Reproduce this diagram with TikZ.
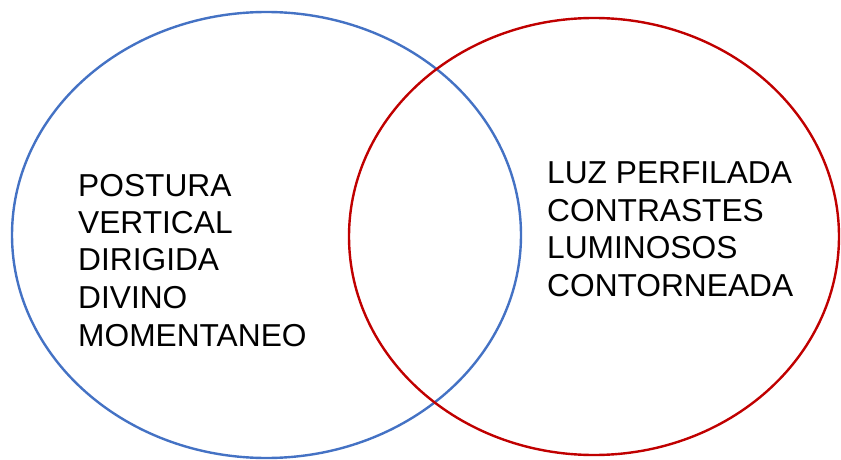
\documentclass[tikz,border=0pt]{standalone}
\usepackage{fontspec}
\setmainfont{Liberation Sans}
\usetikzlibrary{shapes.geometric}
\definecolor{vblue}{HTML}{4472C4}
\definecolor{vred}{HTML}{C00000}
\begin{document}
\begin{tikzpicture}[x=1pt,y=1pt,
  ring/.style={line width=2.4pt,ellipse,inner sep=0pt},
  lbl/.style={anchor=base west,inner sep=0pt,font=\fontsize{31.7}{37}\selectfont}]
\useasboundingbox (0,0) rectangle (841,459);
\node[ring,draw=vblue,minimum width=509pt,minimum height=446pt] (left) at (266.5,224) {};
\node[ring,draw=vred,minimum width=490pt,minimum height=437pt] (right) at (594,222.5) {};
\node[lbl] (l1) at (78,263) {POSTURA};
\node[lbl] (l2) at (78,226) {VERTICAL};
\node[lbl] (l3) at (78,189) {DIRIGIDA};
\node[lbl] (l4) at (78,151) {DIVINO};
\node[lbl] (l5) at (78,113) {MOMENTANEO};
\node[lbl] (r1) at (547,276) {LUZ PERFILADA};
\node[lbl] (r2) at (547,238) {CONTRASTES};
\node[lbl] (r3) at (547,201) {LUMINOSOS};
\node[lbl] (r4) at (547,163) {CONTORNEADA};
\end{tikzpicture}
\end{document}
